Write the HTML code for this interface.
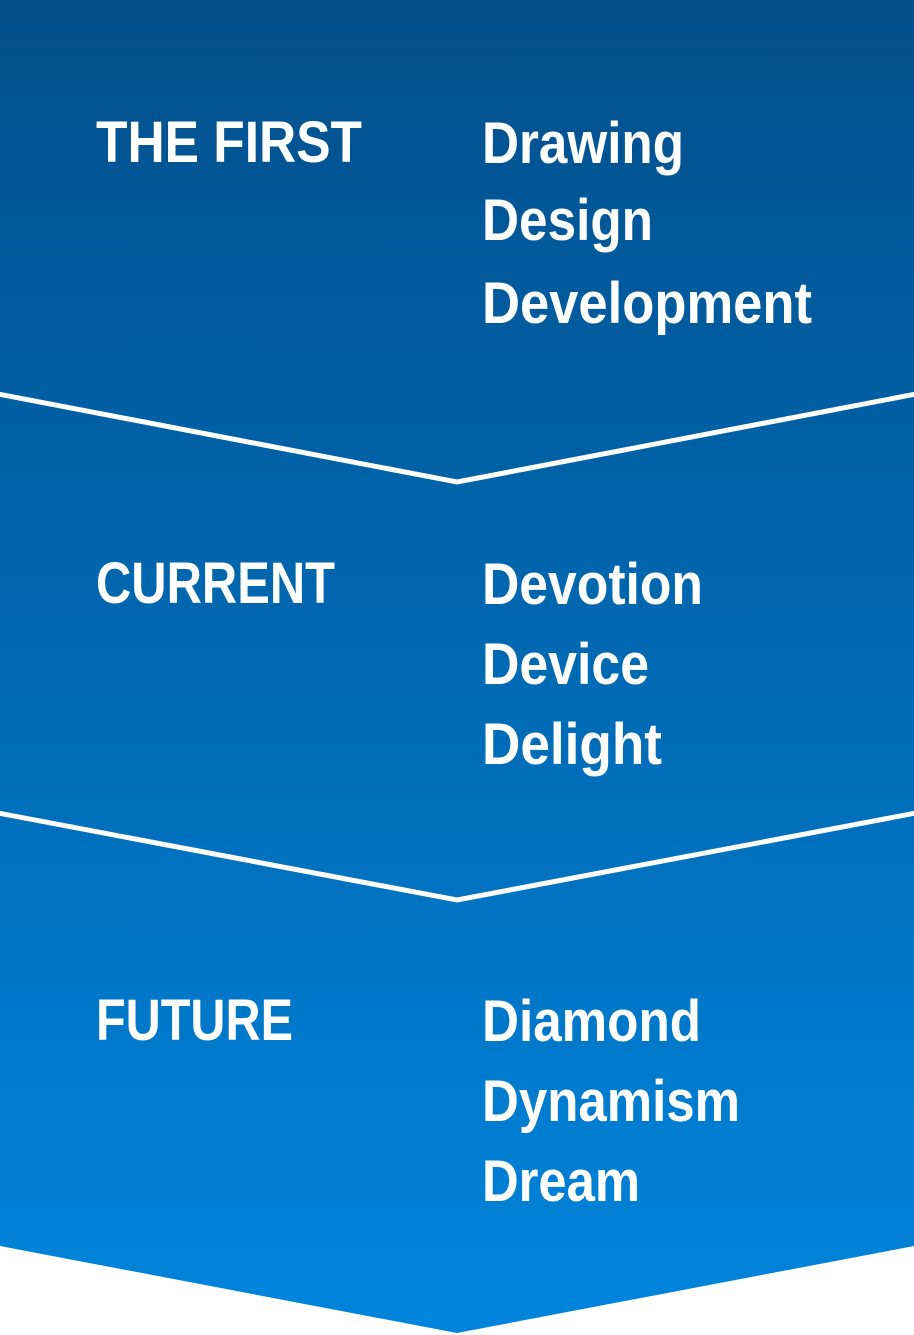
<!DOCTYPE html>
<html><head><meta charset="utf-8"><style>
html,body{margin:0;padding:0;background:#fff;}
svg{display:block;}
text{font-family:"Liberation Sans",sans-serif;font-weight:bold;fill:#fff;font-size:58px;}
</style></head><body>
<svg width="914" height="1335" viewBox="0 0 914 1335" xmlns="http://www.w3.org/2000/svg">
<defs><linearGradient id="g" x1="0" y1="0" x2="0" y2="1">
<stop offset="0" stop-color="#034f8c"/><stop offset="0.33" stop-color="#0060a5"/><stop offset="1" stop-color="#0085dd"/>
</linearGradient></defs>
<rect x="0" y="0" width="914" height="1335" fill="url(#g)"/>
<polygon points="0,1246 457,1333 914,1246 914,1335 0,1335" fill="#fff"/>
<polyline points="-2,394 457,482 916,394" fill="none" stroke="#fff" stroke-width="5"/>
<polyline points="-2,813 457,900 916,813" fill="none" stroke="#fff" stroke-width="5"/>
<text x="96" y="162" textLength="266" lengthAdjust="spacingAndGlyphs">THE FIRST</text>
<text x="482" y="163" textLength="202" lengthAdjust="spacingAndGlyphs">Drawing</text>
<text x="482" y="240" textLength="171" lengthAdjust="spacingAndGlyphs">Design</text>
<text x="482" y="323" textLength="330" lengthAdjust="spacingAndGlyphs">Development</text>
<text x="96" y="603" textLength="239" lengthAdjust="spacingAndGlyphs">CURRENT</text>
<text x="482" y="604" textLength="221" lengthAdjust="spacingAndGlyphs">Devotion</text>
<text x="482" y="684" textLength="167" lengthAdjust="spacingAndGlyphs">Device</text>
<text x="482" y="764" textLength="180" lengthAdjust="spacingAndGlyphs">Delight</text>
<text x="96" y="1040" textLength="197" lengthAdjust="spacingAndGlyphs">FUTURE</text>
<text x="482" y="1041" textLength="219" lengthAdjust="spacingAndGlyphs">Diamond</text>
<text x="482" y="1121" textLength="258" lengthAdjust="spacingAndGlyphs">Dynamism</text>
<text x="482" y="1201" textLength="158" lengthAdjust="spacingAndGlyphs">Dream</text>
</svg>
</body></html>
